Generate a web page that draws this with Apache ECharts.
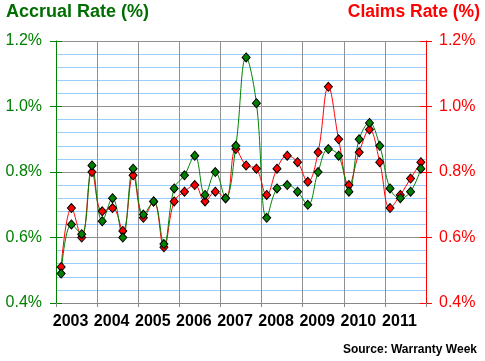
<!DOCTYPE html>
<html>
<head>
<meta charset="utf-8">
<script src="https://cdn.jsdelivr.net/npm/echarts@6/dist/echarts.min.js"></script>
<style>html,body{margin:0;padding:0;background:#fff}#c{width:485px;height:361px}</style>
</head>
<body>
<div id="c"></div>
<script>
var years = ['2003','2004','2005','2006','2007','2008','2009','2010','2011'];
var quarters = [];
years.forEach(function(y){ for (var q = 1; q <= 4; q++) quarters.push(y + ' Q' + q); });
var accrualRate = [0.49,0.64,0.61,0.82, 0.65,0.72,0.60,0.81, 0.67,0.71,0.58,0.75,
                   0.79,0.85,0.73,0.80, 0.72,0.88,1.15,1.01, 0.66,0.75,0.76,0.74,
                   0.70,0.80,0.87,0.85, 0.74,0.90,0.95,0.88, 0.75,0.72,0.74,0.81];
var claimsRate  = [0.51,0.69,0.60,0.80, 0.68,0.69,0.62,0.79, 0.66,0.71,0.57,0.71,
                   0.74,0.76,0.71,0.74, 0.72,0.87,0.82,0.81, 0.73,0.81,0.85,0.83,
                   0.77,0.86,1.06,0.90, 0.76,0.86,0.93,0.83, 0.69,0.73,0.78,0.83];
var yMin = 0.4, yMax = 1.2, yStep = 0.2;

var FONT = '"Liberation Sans", Arial, Helvetica, sans-serif';
var GREEN = '#008000', RED = '#ff0000';
var chart = echarts.init(document.getElementById('c'), null, {renderer: 'canvas'});
function pct(v){ return v.toFixed(1) + '%'; }
function tickAxis(pos, color, inside){
  return {
    type: 'value', position: pos, min: yMin, max: yMax, interval: yStep,
    axisLine: {show: false}, splitLine: {show: false},
    axisLabel: {show: false},
    axisTick: {show: true, inside: inside, length: 6, lineStyle: {color: color, width: 1}}
  };
}
chart.setOption({
  animation: false,
  grid: {left: 56, right: 59, top: 41, bottom: 58, containLabel: false},
  graphic: [
    {type: 'text', left: 6, top: 3, style: {text: 'Accrual Rate (%)', font: 'bold 18px ' + FONT, fill: '#006e00'}},
    {type: 'text', right: 5, top: 3, style: {text: 'Claims Rate (%)', font: 'bold 17.5px ' + FONT, fill: RED}},
    {type: 'text', right: 8, top: 344, style: {text: 'Source: Warranty Week', font: 'bold 12px ' + FONT, fill: '#000'}}
  ],
  xAxis: [
    {
      type: 'category', data: years, boundaryGap: true, position: 'bottom',
      axisLine: {show: true, lineStyle: {color: '#888', width: 1}},
      axisTick: {show: true, length: 4, lineStyle: {color: '#888'}},
      axisLabel: {color: '#000', fontFamily: FONT, fontSize: 16, fontWeight: 'bold', margin: 11, interval: 0,
                  padding: [0, 12, 0, 0]},
      splitLine: {show: true, interval: 0, lineStyle: {color: '#909090', width: 1}}
    },
    {type: 'category', data: quarters, boundaryGap: true, show: false}
  ],
  yAxis: [
    {
      type: 'value', position: 'left', min: yMin, max: yMax, interval: yStep,
      axisLine: {show: true, lineStyle: {color: GREEN, width: 1}},
      axisTick: {show: true, length: 6, lineStyle: {color: GREEN}},
      axisLabel: {color: GREEN, fontFamily: FONT, fontSize: 16, margin: 14, formatter: pct},
      splitLine: {show: true, lineStyle: {color: '#909090', width: 1}},
      minorTick: {show: false, splitNumber: 5},
      minorSplitLine: {show: true, lineStyle: {color: '#99ccff', width: 1}}
    },
    {
      type: 'value', position: 'right', min: yMin, max: yMax, interval: yStep,
      axisLine: {show: true, lineStyle: {color: RED, width: 1}},
      axisTick: {show: true, length: 6, lineStyle: {color: RED}},
      axisLabel: {color: RED, fontFamily: FONT, fontSize: 16, margin: 13, formatter: pct},
      splitLine: {show: false}
    },
    tickAxis('left', GREEN, true),
    tickAxis('right', RED, true)
  ],
  series: [
    {
      name: 'Claims Rate', type: 'line', xAxisIndex: 1, yAxisIndex: 1, data: claimsRate,
      smooth: 0.4, symbol: 'diamond', symbolSize: [8, 9], showAllSymbol: true,
      lineStyle: {color: RED, width: 1},
      itemStyle: {color: RED, borderColor: '#000', borderWidth: 1}
    },
    {
      name: 'Accrual Rate', type: 'line', xAxisIndex: 1, yAxisIndex: 0, data: accrualRate,
      smooth: 0.4, symbol: 'diamond', symbolSize: [8, 9], showAllSymbol: true,
      lineStyle: {color: GREEN, width: 1},
      itemStyle: {color: GREEN, borderColor: '#000', borderWidth: 1}
    }
  ]
});
</script>
</body>
</html>
